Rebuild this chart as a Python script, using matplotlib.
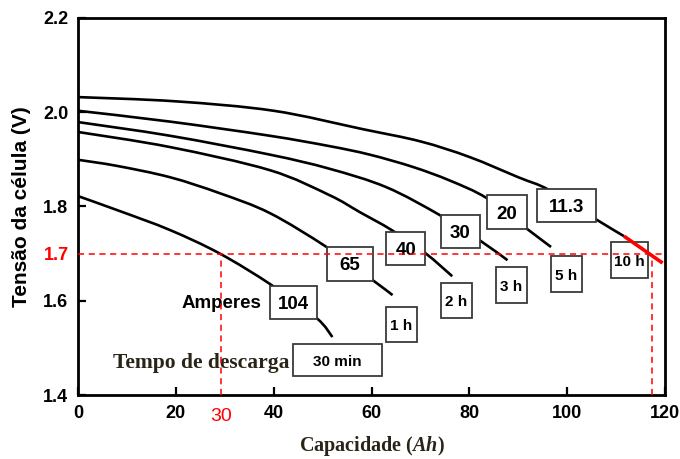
import matplotlib
matplotlib.use("Agg")
import matplotlib.pyplot as plt
from matplotlib.path import Path
from matplotlib.patches import PathPatch, Rectangle
import numpy as np

plt.rcParams['mathtext.fontset'] = 'custom'
plt.rcParams['mathtext.it'] = 'Liberation Serif:italic:bold'
plt.rcParams['mathtext.rm'] = 'Liberation Serif:bold'

# ---- data ----
cap_104 = [0, 8.6, 18.8, 29, 39.6, 48.8, 52]
v_104 = [1.822, 1.790, 1.750, 1.700, 1.633, 1.563, 1.523]

cap_65 = [0, 8, 18.8, 29, 39.2, 50.8, 60.2, 64.3]
v_65 = [1.899, 1.886, 1.862, 1.828, 1.786, 1.714, 1.644, 1.612]

cap_40 = [0, 18.8, 39.2, 51.4, 57.6, 64.1, 71, 76.5]
v_40 = [1.958, 1.926, 1.877, 1.824, 1.788, 1.750, 1.701, 1.652]

cap_30 = [0, 18.8, 39.2, 51.4, 63, 73.9, 82, 87.8]
v_30 = [1.979, 1.950, 1.910, 1.880, 1.841, 1.782, 1.729, 1.686]

cap_20 = [0, 18.8, 39.2, 51.4, 59.6, 68.4, 76, 83.5, 91.2, 96.7]
v_20 = [2.003, 1.980, 1.950, 1.928, 1.910, 1.884, 1.855, 1.818, 1.757, 1.714]

cap_11 = [0, 20, 40, 58.2, 70, 80, 90, 96.3, 106, 111.6]
v_11 = [2.032, 2.023, 2.003, 1.964, 1.938, 1.905, 1.862, 1.835, 1.772, 1.737]
cap_11_red = [111.6, 119.5]
v_11_red = [1.737, 1.680]

amp_labels = ["104", "65", "40", "30", "20", "11.3"]
amp_x = [44.1, 55.5, 67.0, 78.1, 87.6, 99.8]
amp_y = [1.597, 1.678, 1.711, 1.747, 1.788, 1.801]

time_labels = ["30 min", "1 h", "2 h", "3 h", "5 h", "10 h"]
time_x = [53.1, 66.1, 77.3, 88.6, 99.8, 112.7]
time_y = [1.474, 1.550, 1.601, 1.633, 1.656, 1.686]

cutoff_v = 1.7
cutoff_cap_104 = 29.3
cutoff_cap_10h = 117.3

x_ticks = [0, 20, 40, 60, 80, 100, 120]
y_ticks = [1.4, 1.6, 1.8, 2.0, 2.2]

# box sizes in pixels (style)
amp_box_px = [(47, 33), (46, 34), (39, 33), (39, 33), (40, 34), (59, 33)]
time_box_px = [(89, 32), (31, 35), (31, 35), (31, 36), (31, 36), (37, 36)]

# ---- figure ----
fig = plt.figure(figsize=(6.8, 4.59), dpi=100)
ax = fig.add_axes([0.1147, 0.1394, 0.8633, 0.8216])
ax.set_xlim(0, 120)
ax.set_ylim(1.4, 2.2)

px_x = ax.get_position().width * 680 / 120.0
px_y = ax.get_position().height * 459 / 0.8


def smooth_path(xs, ys):
    P = np.column_stack([xs, ys]).astype(float)
    n = len(P)
    verts = [P[0]]
    codes = [Path.MOVETO]
    for i in range(n - 1):
        p0 = P[i - 1] if i > 0 else P[i]
        p1 = P[i]
        p2 = P[i + 1]
        p3 = P[i + 2] if i + 2 < n else P[i + 1]
        c1 = p1 + (p2 - p0) / 6.0
        c2 = p2 - (p3 - p1) / 6.0
        verts += [c1, c2, p2]
        codes += [Path.CURVE4] * 3
    return Path(verts, codes)


lw = 1.9
for cx, cv in [(cap_104, v_104), (cap_65, v_65), (cap_40, v_40),
               (cap_30, v_30), (cap_20, v_20), (cap_11, v_11)]:
    ax.add_patch(PathPatch(smooth_path(cx, cv), fc="none", ec="black", lw=lw,
                           zorder=2, capstyle="butt"))
ax.plot(cap_11_red, v_11_red, color="red", lw=2.6, zorder=5, clip_on=False,
        solid_capstyle="butt")

# cut-off guide lines
dash = (0, (4, 3))
ax.plot([0, 120], [cutoff_v, cutoff_v], color="red", lw=1.1, ls=dash, zorder=4)
ax.plot([cutoff_cap_104, cutoff_cap_104], [1.4, cutoff_v], color="red", lw=1.1,
        ls=dash, zorder=4)
ax.plot([cutoff_cap_10h, cutoff_cap_10h], [1.4, cutoff_v], color="red", lw=1.1,
        ls=dash, zorder=4)


def boxed(x, y, text, size_px, fs):
    w = size_px[0] / px_x
    h = size_px[1] / px_y
    ax.add_patch(Rectangle((x - w / 2, y - h / 2), w, h, fc="white", ec="#3a3a3a",
                           lw=1.3, zorder=3))
    ax.text(x, y, text, ha="center", va="center_baseline", fontsize=fs,
            fontweight="bold", family="Liberation Sans", zorder=3.5)


for t, x, y, s in zip(amp_labels, amp_x, amp_y, amp_box_px):
    boxed(x, y, t, s, 13.5)
for t, x, y, s in zip(time_labels, time_x, time_y, time_box_px):
    boxed(x, y, t, s, 11)

ax.text(29.3, 1.598, "Amperes", ha="center", va="center_baseline", fontsize=13.5,
        fontweight="bold", family="Liberation Sans", zorder=3)
ax.text(25.1, 1.474, "Tempo de descarga", ha="center", va="center_baseline",
        fontsize=15.5, fontweight="bold", family="Liberation Serif",
        color="#2a2418", zorder=3)

# axes styling
for s in ax.spines.values():
    s.set_linewidth(2.0)
ax.set_xticks(x_ticks)
ax.set_xticklabels([str(v) for v in x_ticks])
ax.set_yticks(y_ticks)
ax.set_yticklabels([f"{v:.1f}" for v in y_ticks])
ax.tick_params(axis="both", direction="in", length=6, width=1.6, labelsize=13)
ax.tick_params(axis="y", pad=7)
ax.tick_params(axis="x", pad=7)
for lab in ax.get_xticklabels() + ax.get_yticklabels():
    lab.set_fontweight("bold")
    lab.set_family("Liberation Sans")

# red highlighted tick labels
ax.text(cutoff_cap_104, 1.4 - 0.027, "30", ha="center", va="top", fontsize=14,
        color="red", family="Liberation Sans", clip_on=False)
ax.text(-1.85, cutoff_v, "1.7", ha="right", va="center_baseline", fontsize=13,
        fontweight="bold", color="red", family="Liberation Sans", clip_on=False)

ax.set_xlabel(r"Capacidade ($Ah$)", fontsize=14.5, fontweight="bold",
              family="Liberation Serif", color="#2a2418", labelpad=9)
ax.set_ylabel("Tensão da célula (V)", fontsize=15, fontweight="bold",
              family="Liberation Sans", labelpad=9)

fig.savefig("out.png", dpi=100)
